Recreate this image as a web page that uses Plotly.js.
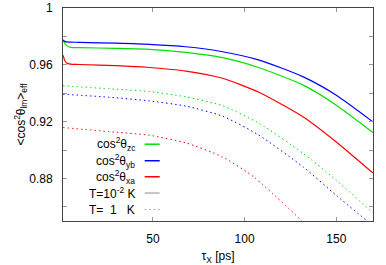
<!DOCTYPE html>
<html><head><meta charset="utf-8">
<script src="https://cdn.plot.ly/plotly-3.0.1.min.js"></script>
<style>html,body{margin:0;padding:0;background:#fff}#chart{width:386px;height:265px}</style>
</head><body><div id="chart"></div>
<script>
// tau_X [ps] sample points
const xSolid = [1, 2, 3, 5, 10, 30, 48, 68, 88, 108, 132, 150, 170];
const zcLow  = [0.9774, 0.9750, 0.9735, 0.9723, 0.9721, 0.9716, 0.9709, 0.9687, 0.9650, 0.9579, 0.9457, 0.9316, 0.9123];
const ybLow  = [0.9775, 0.9765, 0.9761, 0.9760, 0.9758, 0.9752, 0.9744, 0.9727, 0.9692, 0.9633, 0.9515, 0.9386, 0.9198];
const xaLow  = [0.9668, 0.9630, 0.9613, 0.9605, 0.9602, 0.9594, 0.9581, 0.9556, 0.9505, 0.9405, 0.9233, 0.9057, 0.8838];

const xZcHigh = [1, 30, 48, 68, 88, 108, 132, 150, 170];
const zcHigh  = [0.9452, 0.9428, 0.9412, 0.9374, 0.9312, 0.9187, 0.8975, 0.8787, 0.8556];
const xYbHigh = [1, 30, 48, 68, 88, 107, 132, 150, 166.8];
const ybHigh  = [0.9393, 0.9368, 0.9346, 0.9309, 0.9238, 0.9111, 0.8880, 0.8680, 0.8500];
const xXaHigh = [1, 30, 48, 68, 88, 105, 131.3];
const xaHigh  = [0.9158, 0.9125, 0.9104, 0.9050, 0.8951, 0.8810, 0.8500];

const yTickVals = [0.86, 0.88, 0.90, 0.92, 0.94, 0.96, 0.98, 1.0];
const yTickText = ['', '0.88', '', '0.92', '', '0.96', '', '1'];
const xTickVals = [50, 100, 150];
const legendLabels = ['cos<sup>2</sup>θ<sub>zc</sub>', 'cos<sup>2</sup>θ<sub>yb</sub>', 'cos<sup>2</sup>θ<sub>xa</sub>', 'T=10<sup>-2</sup> K', 'T=\u00a0 1 \u00a0 K'];

const GREEN = '#00e000', BLUE = '#0000ff', RED = '#ff0000', GREY = '#a0a0a0';
const dotted = '1.5px,3px';
const sp = 0.6;
const traces = [
  {x: xSolid, y: zcLow, mode: 'lines', line: {color: GREEN, width: 1.2, shape: 'spline', smoothing: sp}},
  {x: xSolid, y: ybLow, mode: 'lines', line: {color: BLUE, width: 1.2, shape: 'spline', smoothing: sp}},
  {x: xSolid, y: xaLow, mode: 'lines', line: {color: RED, width: 1.2, shape: 'spline', smoothing: sp}},
  {x: xZcHigh, y: zcHigh, mode: 'lines', line: {color: GREEN, width: 1, dash: dotted, shape: 'spline', smoothing: sp}},
  {x: xYbHigh, y: ybHigh, mode: 'lines', line: {color: BLUE, width: 1, dash: dotted, shape: 'spline', smoothing: sp}},
  {x: xXaHigh, y: xaHigh, mode: 'lines', line: {color: RED, width: 1, dash: dotted, shape: 'spline', smoothing: sp}}
];

// custom legend (text right-aligned, sample to the right), paper coords
const rowsY = [0.3606, 0.283, 0.2078, 0.1312, 0.0536];
const sampleStyles = [
  {color: GREEN, width: 1.5}, {color: BLUE, width: 1.5}, {color: RED, width: 1.5},
  {color: GREY, width: 1.2}, {color: GREY, width: 1, dash: '1.5px,3px'}
];
const annotations = legendLabels.map((t, i) => ({
  xref: 'paper', yref: 'paper', x: 0.2387, y: rowsY[i], xanchor: 'right', yanchor: 'middle',
  text: t, showarrow: false, font: {family: 'Liberation Sans, Arial, sans-serif', size: 12, color: '#000'}
}));
const shapes = sampleStyles.map((s, i) => ({
  type: 'line', xref: 'paper', yref: 'paper', x0: 0.2635, x1: 0.312, y0: rowsY[i], y1: rowsY[i], line: s
}));

const axisCommon = {
  showgrid: false, zeroline: false, showline: true, linecolor: '#444', linewidth: 1,
  mirror: 'allticks', ticks: 'inside', ticklen: 4, tickcolor: '#999', tickwidth: 1,
  tickfont: {family: 'Liberation Sans, Arial, sans-serif', size: 12, color: '#000'},
  ticklabelstandoff: 7
};

const layout = {
  width: 386, height: 265,
  margin: {l: 63, r: 13, t: 8, b: 44, pad: 0},
  paper_bgcolor: '#fff', plot_bgcolor: '#fff',
  showlegend: false,
  font: {family: 'Liberation Sans, Arial, sans-serif', size: 12, color: '#000'},
  xaxis: Object.assign({}, axisCommon, {
    range: [1, 170], tickmode: 'array', tickvals: xTickVals,
    title: {text: 'τ<sub>X</sub> [ps]', standoff: 8, font: {size: 12}}
  }),
  yaxis: Object.assign({}, axisCommon, {
    range: [0.85, 1.0], tickmode: 'array', tickvals: yTickVals, ticktext: yTickText,
    title: {text: '<cos<sup>2</sup>θ<sub>lm</sub>><sub>eff</sub>', standoff: 0, font: {size: 12}}
  }),
  annotations: annotations,
  shapes: shapes
};
Plotly.newPlot('chart', traces, layout, {staticPlot: true, displayModeBar: false});
</script></body></html>
